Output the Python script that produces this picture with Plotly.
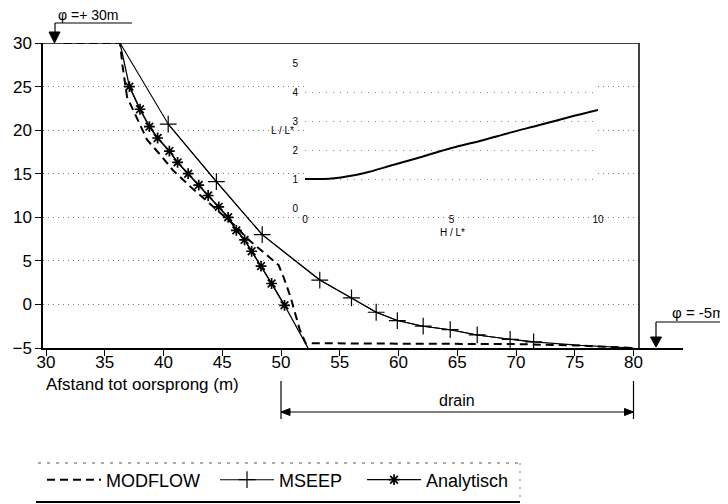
import plotly.graph_objects as go

# ---------------- data ----------------
modflow_x = [31.5, 36.3, 36.5, 36.9, 37.7, 38.6, 39.9, 40.8, 42.3, 43.4, 45.0, 46.2, 47.1, 48.0,
             49.1, 49.8, 50.2, 50.8, 51.6, 52.1, 60.0, 70.0, 75.0, 80.0]
modflow_y = [30.0, 30.0, 27.5, 23.8, 21.5, 18.9, 16.9, 15.4, 13.5, 12.2, 10.4, 8.9, 7.6, 6.6,
             5.3, 4.5, 3.2, 0.9, -2.9, -4.45, -4.5, -4.55, -4.7, -5.0]

mseep_x = [40.4, 44.5, 48.4, 53.3, 56.0, 58.1, 59.9, 62.1, 64.4, 66.7, 69.5, 71.5]
mseep_y = [20.7, 14.1, 8.0, 2.8, 0.75, -0.9, -1.85, -2.5, -2.9, -3.5, -4.0, -4.3]
mseep_start = [36.3, 30.0]
mseep_end_x = [75.5, 80.0]
mseep_end_y = [-4.7, -5.0]

analyt_x = [37.1, 38.0, 38.8, 39.5, 40.5, 41.2, 42.1, 43.0, 43.8, 44.7, 45.5, 46.2, 46.9, 47.5,
            48.3, 49.2, 50.3]
analyt_y = [25.0, 22.4, 20.4, 19.1, 17.6, 16.3, 15.0, 13.7, 12.5, 11.2, 10.0, 8.5, 7.4, 6.1,
            4.4, 2.4, -0.1]
analyt_start = [36.3, 30.0]
analyt_end = [52.3, -5.0]

inset_x = [0, 1, 2, 3, 4, 5, 6, 7, 8, 9, 10]
inset_y = [1.0, 1.03, 1.2, 1.48, 1.77, 2.07, 2.32, 2.6, 2.86, 3.13, 3.38]

x_ticks = [30, 35, 40, 45, 50, 55, 60, 65, 70, 75, 80]
y_ticks = [-5, 0, 5, 10, 15, 20, 25, 30]
inset_xticks = [0, 5, 10]
inset_yticks = [0, 1, 2, 3, 4, 5]

series_names = ["MODFLOW", "MSEEP", "Analytisch"]
drain_range = [50, 80]

# ---------------- geometry helpers ----------------
# page body adds an 8px offset; positions below are given in screenshot pixels
OFF = 8
W, H = 728, 504
L, T = 43 - OFF, 43 - OFF
PW, PH = 640, 305
R = W - L - PW
B = H - T - PH


def PX(px):
    return (px - OFF - L) / PW


def PY(py):
    return (T + PH - (py - OFF)) / PH


FONT = "Liberation Sans, Arial, sans-serif"
X0, X1 = 30 - 3 / 11.75, 30 + (683 - 46) / 11.75
XFRAME = 30 + (639 - 46) / 11.75
NB = "\u00a0"

fig = go.Figure()

# MODFLOW
fig.add_trace(go.Scatter(x=modflow_x, y=modflow_y, mode="lines", name=series_names[0] + NB * 2,
                         line=dict(color="black", width=2, dash="8px,5px")))
# MSEEP
fig.add_trace(go.Scatter(x=[mseep_start[0]] + mseep_x + mseep_end_x,
                         y=[mseep_start[1]] + mseep_y + mseep_end_y,
                         mode="lines", showlegend=False, hoverinfo="skip",
                         line=dict(color="black", width=1.1)))
fig.add_trace(go.Scatter(x=mseep_x, y=mseep_y, mode="lines+markers", name=series_names[1] + NB * 3,
                         line=dict(color="black", width=1.1),
                         marker=dict(symbol="cross-thin", size=12, color="black",
                                     line=dict(color="black", width=1.2))))
# Analytisch
fig.add_trace(go.Scatter(x=[analyt_start[0]] + analyt_x + [analyt_end[0]],
                         y=[analyt_start[1]] + analyt_y + [analyt_end[1]],
                         mode="lines", showlegend=False, hoverinfo="skip",
                         line=dict(color="black", width=1.3)))
fig.add_trace(go.Scatter(x=analyt_x, y=analyt_y, mode="lines+markers", name=series_names[2],
                         line=dict(color="black", width=1.3),
                         marker=dict(symbol="asterisk", size=9, color="black",
                                     line=dict(color="black", width=1.7))))
# inset
fig.add_trace(go.Scatter(x=inset_x, y=inset_y, mode="lines", xaxis="x2", yaxis="y2",
                         showlegend=False, line=dict(color="black", width=2, shape="spline")))

shapes = []
# frame top / right
shapes.append(dict(type="line", xref="x", yref="y", x0=X0, x1=XFRAME, y0=30, y1=30,
                   line=dict(color="black", width=1.5)))
shapes.append(dict(type="line", xref="x", yref="y", x0=XFRAME, x1=XFRAME, y0=-5, y1=30,
                   line=dict(color="black", width=1.5)))
# hide grid beyond frame and under inset
shapes.append(dict(type="rect", xref="x", yref="y", x0=XFRAME + 0.05, x1=X1, y0=-4.9, y1=29.9,
                   fillcolor="white", line=dict(width=0), layer="between"))
shapes.append(dict(type="rect", xref="paper", yref="paper", x0=PX(262), x1=PX(603),
                   y0=PY(240), y1=PY(50), fillcolor="white", line=dict(width=0), layer="between"))
# phi +30m marker
shapes.append(dict(type="line", xref="paper", yref="paper", x0=PX(55), x1=PX(132),
                   y0=PY(23), y1=PY(23), line=dict(color="black", width=1.2)))
shapes.append(dict(type="line", xref="paper", yref="paper", x0=PX(55), x1=PX(55),
                   y0=PY(23), y1=PY(33), line=dict(color="black", width=1.2)))
shapes.append(dict(type="path", xref="paper", yref="paper",
                   path=f"M {PX(49)} {PY(32)} L {PX(60)} {PY(32)} L {PX(54.5)} {PY(43)} Z",
                   fillcolor="black", line=dict(color="black", width=1)))
# phi -5m marker
shapes.append(dict(type="line", xref="paper", yref="paper", x0=PX(656), x1=PX(727),
                   y0=PY(322), y1=PY(322), line=dict(color="black", width=1.2)))
shapes.append(dict(type="line", xref="paper", yref="paper", x0=PX(656), x1=PX(656),
                   y0=PY(322), y1=PY(338), line=dict(color="black", width=1.2)))
shapes.append(dict(type="path", xref="paper", yref="paper",
                   path=f"M {PX(650.5)} {PY(337)} L {PX(661.5)} {PY(337)} L {PX(656)} {PY(347)} Z",
                   fillcolor="black", line=dict(color="black", width=1)))
# drain dimension
for xv in drain_range:
    shapes.append(dict(type="line", xref="x", yref="paper", x0=xv, x1=xv,
                       y0=PY(381), y1=PY(419), line=dict(color="black", width=1.2)))
shapes.append(dict(type="line", xref="x", yref="paper", x0=drain_range[0], x1=drain_range[1],
                   y0=PY(412), y1=PY(412), line=dict(color="black", width=1.2)))
aw = 9 / 11.75
shapes.append(dict(type="path", xref="x", yref="paper",
                   path=f"M {drain_range[0]} {PY(412)} L {drain_range[0] + aw} {PY(408.5)} "
                        f"L {drain_range[0] + aw} {PY(415.5)} Z",
                   fillcolor="black", line=dict(color="black", width=1)))
shapes.append(dict(type="path", xref="x", yref="paper",
                   path=f"M {drain_range[1]} {PY(412)} L {drain_range[1] - aw} {PY(408.5)} "
                        f"L {drain_range[1] - aw} {PY(415.5)} Z",
                   fillcolor="black", line=dict(color="black", width=1)))
# legend frame
shapes.append(dict(type="line", xref="paper", yref="paper", x0=PX(38), x1=PX(520),
                   y0=PY(463), y1=PY(463), line=dict(color="#555", width=1, dash="3px,6px")))
shapes.append(dict(type="line", xref="paper", yref="paper", x0=PX(36), x1=PX(520),
                   y0=PY(502), y1=PY(502), line=dict(color="black", width=2)))
shapes.append(dict(type="line", xref="paper", yref="paper", x0=PX(520), x1=PX(520),
                   y0=PY(463), y1=PY(502), line=dict(color="#777", width=1, dash="2px,6px")))

annotations = [
    dict(text="φ =+ 30m", xref="paper", yref="paper", x=PX(56), y=PY(15), showarrow=False,
         font=dict(size=14, family=FONT, color="black"), xanchor="left", yanchor="middle"),
    dict(text="φ = -5m", xref="paper", yref="paper", x=PX(727), y=PY(312), showarrow=False,
         font=dict(size=15, family=FONT, color="black"), xanchor="right", yanchor="middle"),
    dict(text="Afstand tot oorsprong (m)", xref="paper", yref="paper", x=PX(44), y=PY(384),
         showarrow=False, font=dict(size=17, family=FONT, color="black"),
         xanchor="left", yanchor="middle"),
    dict(text="drain", xref="x", yref="paper", x=(drain_range[0] + drain_range[1]) / 2, y=PY(400),
         showarrow=False, font=dict(size=16, family=FONT, color="black"),
         xanchor="center", yanchor="middle"),
    dict(text="L / L*", xref="paper", yref="paper", x=PX(282), y=PY(131), showarrow=False,
         font=dict(size=10, family=FONT, color="black"), xanchor="center", yanchor="middle"),
    dict(text="H / L*", xref="paper", yref="paper", x=PX(452), y=PY(232), showarrow=False,
         font=dict(size=10, family=FONT, color="black"), xanchor="center", yanchor="middle"),
]

fig.update_layout(
    template="none",
    width=W, height=H,
    margin=dict(l=L, r=R, t=T, b=B, pad=0, autoexpand=False),
    plot_bgcolor="white", paper_bgcolor="white",
    font=dict(family=FONT, color="black"),
    showlegend=True,
    legend=dict(orientation="h", xref="container", yref="container",
                x=(42 - OFF) / W, y=1 - (480 - OFF) / H, xanchor="left", yanchor="middle",
                font=dict(size=18, family=FONT, color="black"), itemwidth=54,
                bgcolor="rgba(0,0,0,0)", borderwidth=0, traceorder="normal"),
    xaxis=dict(range=[X0, X1], tickvals=x_ticks, ticks="outside", ticklen=6, tickwidth=1.2,
               tickcolor="black", showline=True, linecolor="black", linewidth=1.5,
               showgrid=False, zeroline=False, automargin=False, ticklabelstandoff=-8,
               tickfont=dict(size=17, family=FONT, color="black")),
    yaxis=dict(range=[-5, 30], tickvals=y_ticks, ticks="outside", ticklen=6, tickwidth=1.2,
               tickcolor="black", showline=True, linecolor="black", linewidth=1.5,
               showgrid=True, gridcolor="#777", griddash="1px,4px", gridwidth=1,
               zeroline=False, automargin=False,
               tickfont=dict(size=17, family=FONT, color="black")),
    xaxis2=dict(domain=[PX(305), PX(598)], anchor="y2", range=[0, 10], tickvals=inset_xticks,
                showgrid=False, zeroline=False, showline=False, ticks="", automargin=False,
                ticklabelstandoff=4,
                tickfont=dict(size=10, family=FONT, color="black")),
    yaxis2=dict(domain=[PY(208), PY(63)], anchor="x2", range=[0, 5], tickvals=inset_yticks,
                showgrid=True, gridcolor="#888", griddash="1px,6px", gridwidth=1,
                zeroline=False, showline=False, ticks="", automargin=False,
                ticklabelstandoff=6,
                tickfont=dict(size=10, family=FONT, color="black")),
    shapes=shapes,
    annotations=annotations,
)

fig.write_html("out.html")
